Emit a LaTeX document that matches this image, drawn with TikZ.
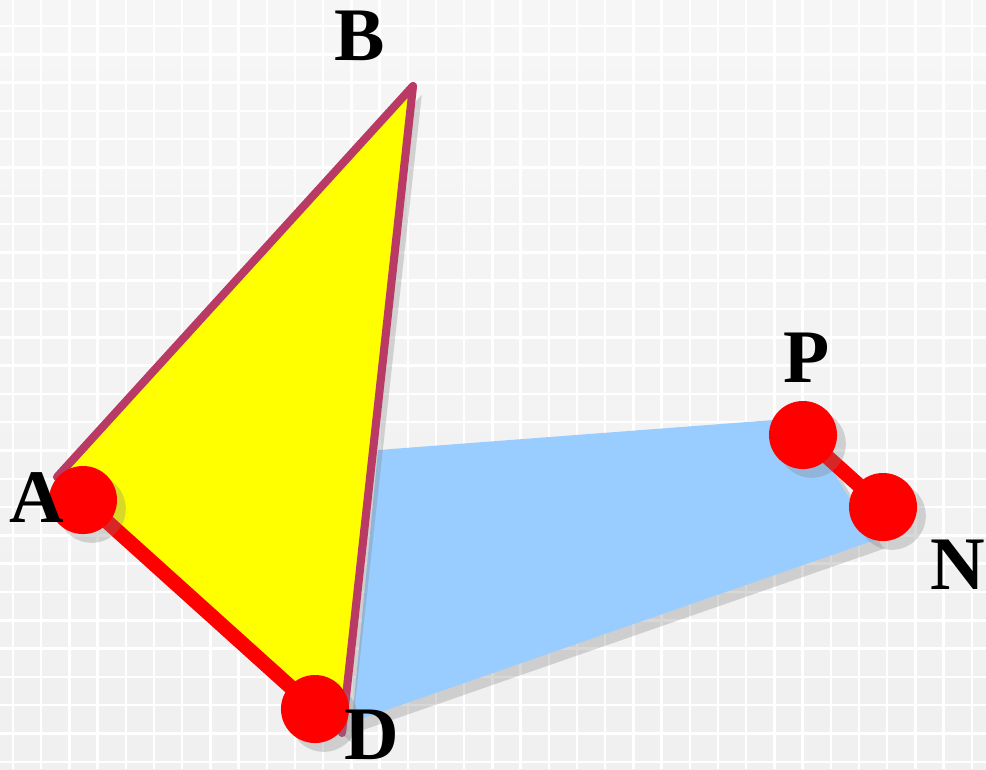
\documentclass[tikz,border=0pt]{standalone}
\usepackage{fontspec}
\setmainfont{Liberation Serif}
\usetikzlibrary{shadows,positioning}
\definecolor{edgepink}{RGB}{184,58,101}
\definecolor{skyfill}{RGB}{153,204,255}
\definecolor{faceyellow}{RGB}{255,255,0}

\begin{document}
\begin{tikzpicture}[x=0.01cm,y=-0.01cm,
  lbl/.style={font=\fontsize{21.5}{24}\selectfont\bfseries,text=black,inner sep=0pt},
  soft/.style={drop shadow={opacity=0.3,shadow xshift=2.5pt,shadow yshift=-2.5pt}},
  dot/.style={circle,fill=red,minimum size=0.68cm,inner sep=0pt,soft},
  rib/.style={edgepink,line width=2.3pt,line join=round,line cap=round},
  bar/.style={red,line width=4.2pt}]
\useasboundingbox (0,0) rectangle (986,769);
% paper with grid
\shade[top color=gray!7,bottom color=gray!12] (0,0) rectangle (986,769);
\foreach \i in {0,...,35}
  \draw[white,line width=0.7pt] (13+28.2*\i,0) -- (13+28.2*\i,769);
\foreach \j in {0,...,27}
  \draw[white,line width=0.7pt] (0,26+28.3*\j) -- (986,26+28.3*\j);

% corners
\coordinate (A) at (57,477);
\coordinate (B) at (413,86);
\coordinate (D) at (342,733);
\coordinate (Q) at (378,450);
\coordinate (Pc) at (800,418);
\coordinate (Nc) at (875,540);
\coordinate (Dc) at (352,722);
\coordinate (a) at (83,500);
\coordinate (d) at (315,709);
\coordinate (p) at (803,435);
\coordinate (n) at (883,507);

% blue face
\fill[skyfill,soft] (Dc) -- (Q) -- (Pc) -- (Nc) -- cycle;
% yellow face
\fill[faceyellow,soft] (A) -- (B) -- (D) -- cycle;
\draw[rib] (A) -- (B) -- (D);

% red segments
\draw[bar,soft] (a) -- (d);
\draw[bar,soft] (p) -- (n);
\node[dot] (Adot) at (a) {};
\node[dot] (Ddot) at (d) {};
\node[dot] (Pdot) at (p) {};
\node[dot] (Ndot) at (n) {};

% labels
\node[lbl] (labA) at (37,498) {A};
\node[lbl] (labB) at (360,36) {B};
\node[lbl] (labD) at (372,735) {D};
\node[lbl] (labP) at (807,358) {P};
\node[lbl] (labN) at (958,565) {N};
\end{tikzpicture}
\end{document}
